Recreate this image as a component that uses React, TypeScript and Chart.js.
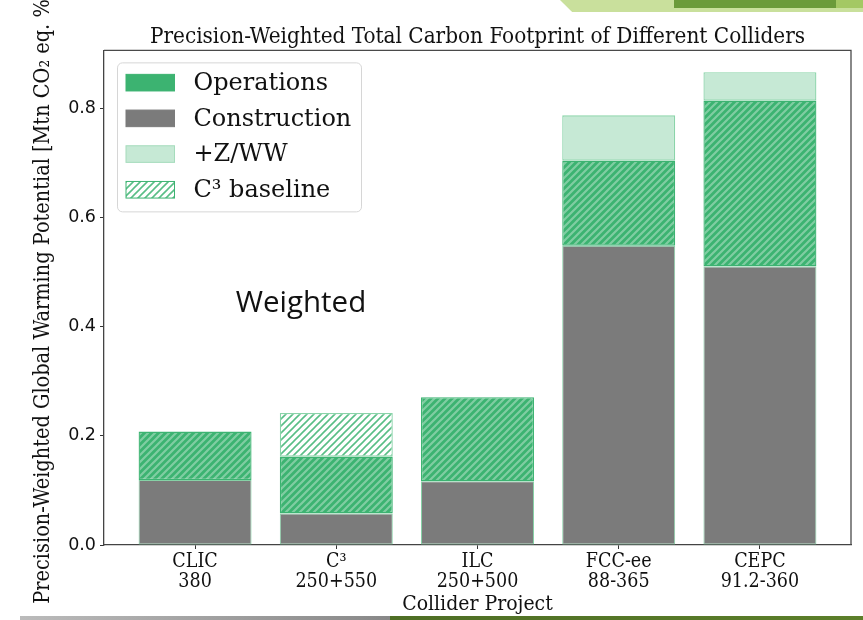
import React, { useEffect, useRef } from 'react';
import { Chart, registerables } from 'chart.js';

Chart.register(...registerables);

// ---------- data ----------
const projectNames = ['CLIC', 'C³', 'ILC', 'FCC-ee', 'CEPC'];
const projectEnergies = ['380', '250+550', '250+500', '88-365', '91.2-360'];
const construction = [0.119, 0.058, 0.117, 0.549, 0.511];
const operations = [0.089, 0.104, 0.154, 0.156, 0.304];
const c3Baseline = [null, 0.080, null, null, null];
const zww = [null, null, null, 0.083, 0.052];
const yTickValues = [0, 0.2, 0.4, 0.6, 0.8];
const legendLabels = ['Operations', 'Construction', '+Z/WW', 'C³ baseline'];
const chartTitle = 'Precision-Weighted Total Carbon Footprint of Different Colliders';
const yTitle = 'Precision-Weighted Global Warming Potential [Mtn CO₂ eq. %]';
const xTitle = 'Collider Project';
const annotationText = 'Weighted';

const SERIF_C = "'DejaVu Serif Condensed', 'DejaVu Serif', serif";
const SERIF = "'DejaVu Serif', serif";
const GREEN = '#3cb371';
const GRAY = '#7b7b7b';
const LIGHT = '#c6e9d5';

function makeHatch(ctx: CanvasRenderingContext2D, bg: string | null, fg: string, s: number, lw: number) {
  const c = document.createElement('canvas');
  c.width = s;
  c.height = s;
  const x = c.getContext('2d') as CanvasRenderingContext2D;
  if (bg) {
    x.fillStyle = bg;
    x.fillRect(0, 0, s, s);
  }
  x.strokeStyle = fg;
  x.lineWidth = lw;
  x.beginPath();
  x.moveTo(0, s);
  x.lineTo(s, 0);
  x.moveTo(-s / 2, s / 2);
  x.lineTo(s / 2, -s / 2);
  x.moveTo(s / 2, s * 1.5);
  x.lineTo(s * 1.5, s / 2);
  x.stroke();
  return ctx.createPattern(c, 'repeat') as CanvasPattern;
}

function toPoints(arr: (number | null)[]) {
  const out: { x: number; y: number }[] = [];
  arr.forEach((v, i) => {
    if (v !== null) out.push({ x: i, y: v });
  });
  return out;
}

export default function App() {
  const ref = useRef<HTMLCanvasElement | null>(null);

  useEffect(() => {
    const canvas = ref.current;
    if (!canvas) return;
    const ctx = canvas.getContext('2d') as CanvasRenderingContext2D;
    const opsHatch = makeHatch(ctx, GREEN, 'rgba(255,255,255,0.35)', 7, 2.2);
    const baseHatch = makeHatch(ctx, '#ffffff', 'rgba(60,179,113,0.85)', 7, 1.6);
    const baseHatchLegend = makeHatch(ctx, '#ffffff', 'rgba(60,179,113,0.85)', 7, 1.6);

    const legendItems = [
      { label: legendLabels[0], fill: GREEN, stroke: GREEN },
      { label: legendLabels[1], fill: GRAY, stroke: GRAY },
      { label: legendLabels[2], fill: LIGHT, stroke: '#a5dcbc' },
      { label: legendLabels[3], fill: baseHatchLegend, stroke: GREEN },
    ];

    const boxLegend = {
      id: 'boxLegend',
      afterDatasetsDraw(chart: any) {
        const c = chart.ctx as CanvasRenderingContext2D;
        const a = chart.chartArea;
        const left = a.left + 13.5;
        const top = a.top + 12.5;
        const w = 244;
        const h = 149;
        c.save();
        c.beginPath();
        (c as any).roundRect(left, top, w, h, 5);
        c.fillStyle = 'rgba(255,255,255,0.85)';
        c.fill();
        c.strokeStyle = '#d6d6d6';
        c.lineWidth = 1;
        c.stroke();
        c.font = `24px ${SERIF}`;
        c.textBaseline = 'middle';
        c.textAlign = 'left';
        legendItems.forEach((it, i) => {
          const cy = top + 19.8 + i * 35.7;
          c.fillStyle = it.fill as any;
          c.fillRect(left + 8.5, cy - 8.3, 48.5, 16.6);
          c.strokeStyle = it.stroke;
          c.lineWidth = 1;
          c.strokeRect(left + 8.5, cy - 8.3, 48.5, 16.6);
          c.fillStyle = '#111';
          c.fillText(it.label, left + 76, cy + 1);
        });
        c.restore();
      },
    };

    const frame = {
      id: 'frame',
      afterDraw(chart: any) {
        const c = chart.ctx as CanvasRenderingContext2D;
        const a = chart.chartArea;
        c.save();
        c.strokeStyle = '#4a4a4a';
        c.lineWidth = 1.3;
        c.beginPath();
        c.moveTo(a.left, a.top);
        c.lineTo(a.right, a.top);
        c.lineTo(a.right, a.bottom);
        c.stroke();
        // annotation text
        const xs = chart.scales.x;
        const ys = chart.scales.y;
        c.font = `29.5px 'Open Sans', sans-serif`;
        c.fillStyle = '#111';
        c.textAlign = 'center';
        c.textBaseline = 'middle';
        c.fillText(annotationText, xs.getPixelForValue(0.75), ys.getPixelForValue(0.443));
        c.restore();
      },
    };

    const chart = new Chart(canvas, {
      type: 'bar',
      data: {
        datasets: [
          {
            label: legendLabels[1],
            data: toPoints(construction) as any,
            backgroundColor: GRAY,
            borderColor: '#86d1a6',
            borderWidth: 1,
            borderSkipped: false,
          },
          {
            label: legendLabels[0],
            data: toPoints(operations) as any,
            backgroundColor: opsHatch as any,
            borderColor: GREEN,
            borderWidth: 1.3,
            borderSkipped: false,
          },
          {
            label: legendLabels[3],
            data: toPoints(c3Baseline) as any,
            backgroundColor: baseHatch as any,
            borderColor: '#8ad4a9',
            borderWidth: 1.3,
            borderSkipped: false,
          },
          {
            label: legendLabels[2],
            data: toPoints(zww) as any,
            backgroundColor: LIGHT,
            borderColor: '#8ad4a9',
            borderWidth: 1.3,
            borderSkipped: false,
          },
        ],
      },
      options: {
        responsive: false,
        animation: false,
        barPercentage: 0.8,
        categoryPercentage: 1.0,
        layout: { padding: { top: 0, left: 0, right: 12, bottom: 0 } },
        plugins: {
          legend: { display: false },
          tooltip: { enabled: false },
          title: {
            display: true,
            fullSize: false,
            text: chartTitle,
            color: '#111',
            font: { family: SERIF_C, size: 22.3, weight: 'normal', lineHeight: 1.2 },
            padding: { top: 23.6, bottom: 0 },
          },
        },
        scales: {
          x: {
            type: 'linear',
            stacked: true,
            offset: false,
            min: -0.645,
            max: 4.645,
            afterBuildTicks: (s: any) => {
              s.ticks = projectNames.map((_, i) => ({ value: i }));
            },
            afterFit: (s: any) => {
              s.height = 75;
            },
            grid: { drawOnChartArea: false, drawTicks: true, tickLength: 4, color: '#333', offset: false },
            border: { display: true, color: '#444', width: 1.3 },
            ticks: {
              color: '#111',
              padding: 3.5,
              autoSkip: false,
              maxRotation: 0,
              font: { family: SERIF_C, size: 19.5, lineHeight: 1.0 },
              callback: (v: any) => [projectNames[v], projectEnergies[v]],
            },
            title: {
              display: true,
              text: xTitle,
              color: '#111',
              font: { family: SERIF_C, size: 21, lineHeight: 1.2 },
              padding: { top: 0, bottom: 2.6 },
            },
          },
          y: {
            stacked: true,
            min: 0,
            max: 0.9072,
            afterBuildTicks: (s: any) => {
              s.ticks = yTickValues.map((v) => ({ value: v }));
            },
            afterFit: (s: any) => {
              s.width = 104;
            },
            grid: { drawOnChartArea: false, drawTicks: true, tickLength: 4, color: '#333' },
            border: { display: true, color: '#444', width: 1.3 },
            ticks: {
              color: '#111',
              padding: 4,
              font: { family: "'DejaVu Sans', sans-serif", size: 17.5 },
              callback: (v: any) => Number(v).toFixed(1),
            },
            title: {
              display: true,
              text: yTitle,
              color: '#111',
              font: { family: SERIF_C, size: 21.5, lineHeight: 1.2 },
              padding: { top: 30.2, bottom: 0 },
            },
          },
        },
      } as any,
      plugins: [boxLegend, frame],
    });
    return () => chart.destroy();
  }, []);

  return (
    <div style={{ position: 'fixed', left: 0, top: 0, width: 863, height: 620, background: '#fff', overflow: 'hidden' }}>
      <div style={{ position: 'absolute', left: 560, top: 0, width: 303, height: 12, background: '#c9e09c', clipPath: 'polygon(0 0, 100% 0, 100% 100%, 4% 100%)' }} />
      <div style={{ position: 'absolute', left: 674, top: 0, width: 162, height: 8, background: '#6b9b3a' }} />
      <div style={{ position: 'absolute', left: 836, top: 0, width: 27, height: 8, background: '#a4c864' }} />
      <div style={{ position: 'absolute', left: 20, top: 616, width: 372, height: 4, background: 'linear-gradient(90deg, #bbb, #888)' }} />
      <div style={{ position: 'absolute', left: 390, top: 616, width: 473, height: 4, background: 'linear-gradient(90deg, #4e6e25, #5c7f2a)' }} />
      <canvas ref={ref} width={863} height={620} style={{ position: 'absolute', left: 0, top: 0, width: 863, height: 620 }} />
    </div>
  );
}
